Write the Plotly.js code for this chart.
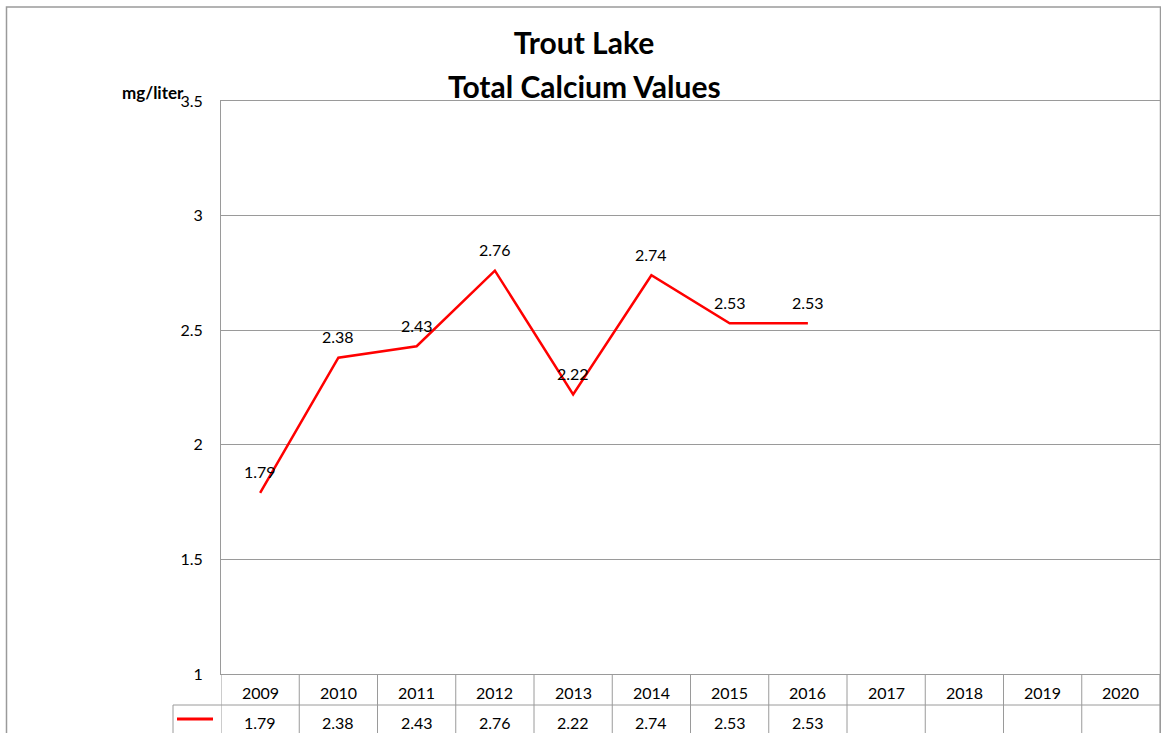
<!DOCTYPE html>
<html>
<head>
<meta charset="utf-8">
<script src="https://cdn.plot.ly/plotly-3.0.1.min.js"></script>
<style>
  html, body { margin: 0; padding: 0; background: #fff; }
  #chart { width: 1161px; height: 733px; }
</style>
</head>
<body>
<div id="chart"></div>
<script>
// ---- data ----
const years = ["2009","2010","2011","2012","2013","2014","2015","2016","2017","2018","2019","2020"];
const calcium = [1.79, 2.38, 2.43, 2.76, 2.22, 2.74, 2.53, 2.53, null, null, null, null];
const titleLine1 = "Trout Lake";
const titleLine2 = "Total Calcium Values";
const unitLabel = "mg/liter";

// ---- layout helpers (pixel -> paper) ----
const W = 1161, H = 733;
const M = { l: 221, r: 1, t: 101, b: 59 };
const plotW = W - M.l - M.r, plotH = H - M.t - M.b;
const px = p => (p - M.l) / plotW;
const py = p => (H - M.b - p) / plotH;

const FONT = "Lato, 'Open Sans', 'Liberation Sans', sans-serif";
const GRID = "#9a9a9a";
const LBL = 16;

const shapes = [];
const annotations = [];

// outer chart border
shapes.push({ type: "rect", xref: "paper", yref: "paper",
  x0: px(6.5), x1: px(1160.5), y0: py(7), y1: py(760),
  line: { color: GRID, width: 1.5 }, fillcolor: "rgba(0,0,0,0)", layer: "below" });

// data table: vertical cell borders
for (let i = 0; i <= years.length; i++) {
  shapes.push({ type: "line", xref: "x", yref: "paper",
    x0: i - 0.5, x1: i - 0.5, y0: 0, y1: py(760),
    line: { color: GRID, width: 1 } });
}
// horizontal border between rows (including legend key cell)
shapes.push({ type: "line", xref: "paper", yref: "paper",
  x0: px(173), x1: 1, y0: py(705), y1: py(705), line: { color: GRID, width: 1 } });
// legend key cell left border
shapes.push({ type: "line", xref: "paper", yref: "paper",
  x0: px(173), x1: px(173), y0: py(705), y1: py(760), line: { color: GRID, width: 1 } });
// legend key line
shapes.push({ type: "line", xref: "paper", yref: "paper",
  x0: px(177), x1: px(213), y0: py(719), y1: py(719), line: { color: "#ff0000", width: 3 } });

// table text and data labels (category index positions)
years.forEach((yr, i) => {
  annotations.push({ x: i, xref: "x", y: py(692), yref: "paper", text: yr,
    showarrow: false, xanchor: "center", yanchor: "middle",
    font: { family: FONT, size: LBL, color: "#000" } });
  if (calcium[i] !== null) {
    annotations.push({ x: i, xref: "x", y: py(722), yref: "paper", text: calcium[i].toFixed(2),
      showarrow: false, xanchor: "center", yanchor: "middle",
      font: { family: FONT, size: LBL, color: "#000" } });
    annotations.push({ x: i, xref: "x", y: calcium[i], yref: "y", text: calcium[i].toFixed(2),
      showarrow: false, xanchor: "center", yanchor: "middle", yshift: 21,
      font: { family: FONT, size: LBL, color: "#000" } });
  }
});

// unit label
annotations.push({ x: px(153), xref: "paper", y: py(93), yref: "paper", text: "<b>" + unitLabel + "</b>",
  showarrow: false, xanchor: "center", yanchor: "middle",
  font: { family: FONT, size: 17, color: "#000" } });

// second title line
annotations.push({ x: px(584), xref: "paper", y: py(86), yref: "paper", text: "<b>" + titleLine2 + "</b>",
  showarrow: false, xanchor: "center", yanchor: "middle",
  font: { family: FONT, size: 30, color: "#000" } });

const trace = {
  x: years, y: calcium, type: "scatter", mode: "lines",
  line: { color: "#ff0000", width: 2.5 }, connectgaps: false,
  name: "Total Calcium", hoverinfo: "x+y"
};

const layout = {
  width: W, height: H,
  margin: M,
  paper_bgcolor: "#fff", plot_bgcolor: "#fff",
  showlegend: false,
  font: { family: FONT, color: "#000" },
  title: { text: "<b>" + titleLine1 + "</b>", font: { family: FONT, size: 30, color: "#000" },
    xref: "paper", x: px(584), xanchor: "center",
    yref: "container", y: 1 - 43 / H, yanchor: "middle" },
  xaxis: {
    type: "category", categoryorder: "array", categoryarray: years,
    range: [-0.5, years.length - 0.5],
    showticklabels: false, ticks: "", showgrid: false, zeroline: false,
    showline: true, mirror: true, linecolor: GRID, linewidth: 1, fixedrange: true
  },
  yaxis: {
    range: [1, 3.5], dtick: 0.5, tick0: 1,
    showgrid: true, gridcolor: GRID, gridwidth: 1, zeroline: false,
    showline: true, mirror: true, linecolor: GRID, linewidth: 1,
    ticks: "", ticklabelstandoff: 14,
    tickfont: { family: FONT, size: LBL, color: "#000" }, fixedrange: true
  },
  shapes: shapes,
  annotations: annotations
};

Plotly.newPlot("chart", [trace], layout, { displayModeBar: false, staticPlot: true });
</script>
</body>
</html>
